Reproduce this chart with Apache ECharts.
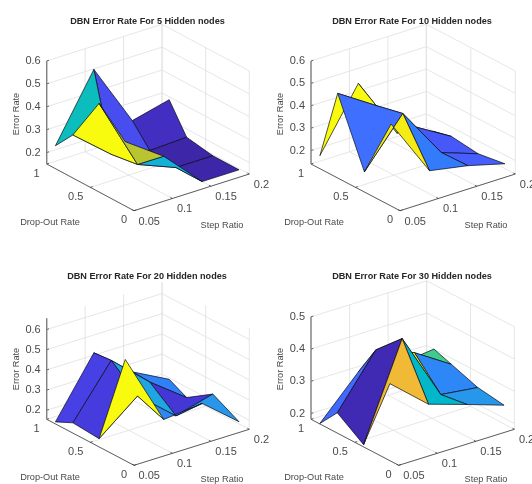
<!DOCTYPE html>
<html><head><meta charset="utf-8">
<style>html,body{margin:0;padding:0;background:#fff}#c{width:532px;height:484px}</style>
<script src="https://cdn.jsdelivr.net/npm/echarts@6/dist/echarts.min.js"></script>
</head><body><div id="c"></div>
<script>
// ---- data ----
const stepRatio = [0.05, 0.1, 0.15, 0.198];
const dropOut = [0.1, 0.4, 0.7, 0.9];
// rows follow dropOut, columns follow stepRatio
const errorRate5 = [
  [0.431, 0.314, 0.150, 0.150],
  [0.537, 0.217, 0.150, 0.150],
  [0.338, 0.200, 0.163, 0.170],
  [0.250, 0.530, 0.253, 0.293]
];
const errorRate10 = [
  [0.506, 0.243, 0.211, 0.167],
  [0.230, 0.436, 0.207, 0.149],
  [0.518, 0.409, 0.260, 0.164],
  [0.198, 0.466, 0.190, 0.145]
];
const errorRate20 = [
  [0.657, 0.300, 0.320, 0.172],
  [0.196, 0.348, 0.190, 0.241],
  [0.206, 0.456, 0.289, 0.155],
  [0.165, 0.448, 0.294, 0.200]
];
const errorRate30 = [
  [0.421, 0.320, 0.282, 0.244],
  [0.189, 0.481, 0.270, 0.256],
  [0.245, 0.403, 0.357, 0.285],
  [0.183, 0.306, 0.290, 0.304]
];
const stepTicks = [0.05, 0.1, 0.15, 0.2];
const dropTicks = [0, 0.5, 1];
const errorTicks5 = [0.2, 0.3, 0.4, 0.5, 0.6];
const errorTicks10 = [0.2, 0.3, 0.4, 0.5, 0.6];
const errorTicks20 = [0.2, 0.3, 0.4, 0.5, 0.6];
const errorTicks30 = [0.2, 0.3, 0.4, 0.5];
const hiddenNodes = [5, 10, 20, 30];
const xLabel = 'Step Ratio', yLabel = 'Drop-Out Rate', zLabel = 'Error Rate';

// ---- colormap (parula) ----
const parula = [[.2422,.1504,.6603],[.2504,.165,.7076],[.2578,.1818,.7511],[.2647,.1978,.7952],[.2706,.2147,.8364],[.2751,.2342,.871],[.2783,.2559,.8991],[.2803,.2782,.9221],[.2813,.3006,.9414],[.281,.3228,.9579],[.2795,.3447,.9717],[.276,.3667,.9829],[.2699,.3892,.9906],[.2602,.4123,.9952],[.244,.4358,.9988],[.2206,.4603,.9973],[.1963,.4847,.9892],[.1834,.5074,.9798],[.1786,.5289,.9682],[.1764,.5499,.952],[.1687,.5703,.9359],[.154,.5902,.9218],[.146,.6091,.9079],[.138,.6276,.8973],[.1248,.6459,.8883],[.1113,.6635,.8763],[.0952,.6798,.8598],[.0689,.6948,.8394],[.0297,.7082,.8163],[.0036,.7203,.7917],[.0067,.7312,.766],[.0433,.7411,.7394],[.0964,.75,.712],[.1408,.7584,.6842],[.1717,.767,.6554],[.1938,.7758,.6251],[.2161,.7843,.5923],[.247,.7918,.5567],[.2906,.7973,.5188],[.3406,.8008,.4789],[.3909,.8029,.4354],[.4456,.8024,.3909],[.5044,.7993,.348],[.5616,.7942,.3045],[.6174,.7876,.2612],[.672,.7793,.2227],[.7242,.7698,.191],[.7738,.7598,.1646],[.8203,.7498,.1535],[.8634,.7406,.1596],[.9035,.733,.1774],[.9393,.7288,.21],[.9728,.7298,.2394],[.9956,.7434,.2371],[.997,.7659,.2199],[.9952,.7861,.1967],[.9892,.8086,.1726],[.9814,.831,.1537],[.974,.8539,.1327],[.9664,.877,.1136],[.96,.899,.115],[.961,.9261,.0842],[.9648,.9514,.0709],[.9763,.9831,.0538]];
function cmap(t) {
  const k = Math.max(0, Math.min(63, Math.floor(t * 64)));
  const c = parula[k];
  return `rgb(${c.map(v => Math.round(v * 255)).join(',')})`;
}

// ---- view of each panel (pixels inside a 266x242 panel) ----
const views = [
  { ox: 134, oy: 210.7, ex: [115.3, -36.7], ey: [-87.3, -46.7], zs: 229, zMin: .15, zMax: .6 },
  { ox: 134, oy: 210.7, ex: [115.3, -36.7], ey: [-89, -46.7], zs: 224, zMin: .14, zMax: .6 },
  { ox: 134, oy: 223.3, ex: [115.3, -36], ey: [-87.3, -46], zs: 201.7, zMin: .155, zMax: .656 },
  { ox: 132.7, oy: 223.3, ex: [115.7, -36], ey: [-87.7, -46], zs: 322.3, zMin: .182, zMax: .5 }
];
const frames = [[0, 0], [266, 0], [0, 242], [266, 242]];
const titleCentre = [[147.5, 20], [146, 20], [147, 33], [146, 33]];
const labelPos = [
  { z: [16, 114], y: [50, 222], x: [222, 225] },
  { z: [14, 114], y: [48, 222], x: [220, 225] },
  { z: [16, 127], y: [50, 235], x: [222, 237] },
  { z: [14, 127], y: [48, 235], x: [220, 237] }
];
const surfaces = [errorRate5, errorRate10, errorRate20, errorRate30];
const zTicks = [errorTicks5, errorTicks10, errorTicks20, errorTicks30];
const xMin = stepTicks[0], xMax = stepTicks[stepTicks.length - 1];
const yMin = dropTicks[0], yMax = dropTicks[dropTicks.length - 1];

function project(view, x, y, z) {
  const u = (x - xMin) / (xMax - xMin), v = (y - yMin) / (yMax - yMin);
  return [view.ox + u * view.ex[0] + v * view.ey[0],
          view.oy + u * view.ex[1] + v * view.ey[1] - (z - view.zMin) * view.zs];
}

const series = [], grids = [], xAxes = [], yAxes = [], titles = [];

function segSeries(idx, segs, style) {
  const view = views[idx];
  series.push({
    type: 'custom', coordinateSystem: 'cartesian2d', xAxisIndex: idx, yAxisIndex: idx,
    silent: true, animation: false, clip: false,
    data: segs.map((_, i) => [i]),
    renderItem(params, api) {
      const s = segs[params.dataIndex];
      const a = api.coord(project(view, s[0], s[1], s[2]));
      const b = api.coord(project(view, s[3], s[4], s[5]));
      return { type: 'line', shape: { x1: a[0], y1: a[1], x2: b[0], y2: b[1] }, style: Object.assign({ fill: null }, style) };
    }
  });
}

views.forEach((view, idx) => {
  const [fx, fy] = frames[idx];
  grids.push({ left: fx, top: fy, width: 266, height: 242, show: false });
  xAxes.push({ gridIndex: idx, type: 'value', min: 0, max: 266, show: false });
  yAxes.push({ gridIndex: idx, type: 'value', min: 0, max: 242, inverse: true, show: false });
  titles.push({
    text: `DBN Error Rate For ${hiddenNodes[idx]} Hidden nodes`, padding: 0,
    left: fx + titleCentre[idx][0], top: fy + titleCentre[idx][1] - 3.5, textAlign: 'center',
    textStyle: { fontFamily: 'Liberation Sans', fontSize: 9.15, fontWeight: 'bold', color: '#262626' }
  });

  const ticks = zTicks[idx];
  const { zMin, zMax } = view;
  // back walls and floor
  const gridSegs = [];
  stepTicks.forEach(x => {
    gridSegs.push([x, yMin, zMin, x, yMax, zMin]);
    gridSegs.push([x, yMax, zMin, x, yMax, zMax]);
  });
  dropTicks.forEach(y => {
    gridSegs.push([xMin, y, zMin, xMax, y, zMin]);
    gridSegs.push([xMax, y, zMin, xMax, y, zMax]);
  });
  ticks.forEach(z => {
    gridSegs.push([xMin, yMax, z, xMax, yMax, z]);
    gridSegs.push([xMax, yMin, z, xMax, yMax, z]);
  });
  segSeries(idx, gridSegs, { stroke: '#e0e0e0', lineWidth: 0.8 });

  // surface: facets painted back to front
  const Z = surfaces[idx];
  const all = Z.flat();
  const lo = Math.min(...all), hi = Math.max(...all);
  const facets = [];
  for (let c = stepRatio.length - 2; c >= 0; c--) {
    for (let r = dropOut.length - 2; r >= 0; r--) {
      facets.push([
        [stepRatio[c], dropOut[r], Z[r][c]],
        [stepRatio[c + 1], dropOut[r], Z[r][c + 1]],
        [stepRatio[c + 1], dropOut[r + 1], Z[r + 1][c + 1]],
        [stepRatio[c], dropOut[r + 1], Z[r + 1][c]]
      ]);
    }
  }
  series.push({
    type: 'custom', coordinateSystem: 'cartesian2d', xAxisIndex: idx, yAxisIndex: idx,
    silent: true, animation: false, clip: false,
    data: facets.map((_, i) => [i]),
    renderItem(params, api) {
      const f = facets[params.dataIndex];
      const pts = f.map(p => api.coord(project(view, p[0], p[1], p[2])));
      return {
        type: 'polygon', shape: { points: pts },
        style: { fill: cmap((f[0][2] - lo) / (hi - lo)), stroke: '#0a0a14', lineWidth: 0.7, lineJoin: 'round' }
      };
    }
  });

  // axes
  const axisSegs = [
    [xMin, yMin, zMin, xMax, yMin, zMin],
    [xMin, yMin, zMin, xMin, yMax, zMin]
  ];
  stepTicks.forEach(x => axisSegs.push([x, yMin, zMin, x, yMin + .022, zMin]));
  dropTicks.forEach(y => axisSegs.push([xMin, y, zMin, xMin + .003, y, zMin]));
  ticks.forEach(z => axisSegs.push([xMin, yMax, z, xMin + .003, yMax, z]));
  segSeries(idx, axisSegs, { stroke: '#3c3c3c', lineWidth: 0.8 });
  segSeries(idx, [[xMin, yMax, zMin, xMin, yMax, zMax]], { stroke: '#808080', lineWidth: 1.4 });

  // text
  const pos = labelPos[idx];
  const texts = [];
  stepTicks.forEach(x => texts.push({ at: [x, yMin, zMin], dx: 4.5, dy: 11, text: String(x), align: 'left' }));
  dropTicks.forEach(y => texts.push({ at: [xMin, y, zMin], dx: -7, dy: 9.5, text: String(y), align: 'right' }));
  ticks.forEach(z => texts.push({ at: [xMin, yMax, z], dx: -6, dy: 0, text: String(z), align: 'right' }));
  series.push({
    type: 'custom', coordinateSystem: 'cartesian2d', xAxisIndex: idx, yAxisIndex: idx,
    silent: true, animation: false, clip: false,
    data: texts.map((_, i) => [i]),
    renderItem(params, api) {
      const t = texts[params.dataIndex];
      const p = api.coord(project(view, t.at[0], t.at[1], t.at[2]));
      return { type: 'text', x: p[0] + t.dx, y: p[1] + t.dy, style: {
        text: t.text, textAlign: t.align, textVerticalAlign: 'middle',
        font: '11px "Liberation Sans"', fill: '#4a4a4a' } };
    }
  });
  const names = [
    { text: zLabel, p: pos.z, rotation: Math.PI / 2 },
    { text: yLabel, p: pos.y, rotation: 0 },
    { text: xLabel, p: pos.x, rotation: 0 }
  ];
  series.push({
    type: 'custom', coordinateSystem: 'cartesian2d', xAxisIndex: idx, yAxisIndex: idx,
    silent: true, animation: false, clip: false,
    data: names.map((_, i) => [i]),
    renderItem(params, api) {
      const t = names[params.dataIndex];
      const p = api.coord(t.p);
      return { type: 'text', x: p[0], y: p[1], rotation: t.rotation, style: {
        text: t.text, textAlign: 'center', textVerticalAlign: 'middle',
        font: '9.2px "Liberation Sans"', fill: '#4a4a4a' } };
    }
  });
});

const chart = echarts.init(document.getElementById('c'), null, { renderer: 'canvas' });
chart.setOption({ backgroundColor: '#fff', animation: false, title: titles, grid: grids, xAxis: xAxes, yAxis: yAxes, series });
</script></body></html>
